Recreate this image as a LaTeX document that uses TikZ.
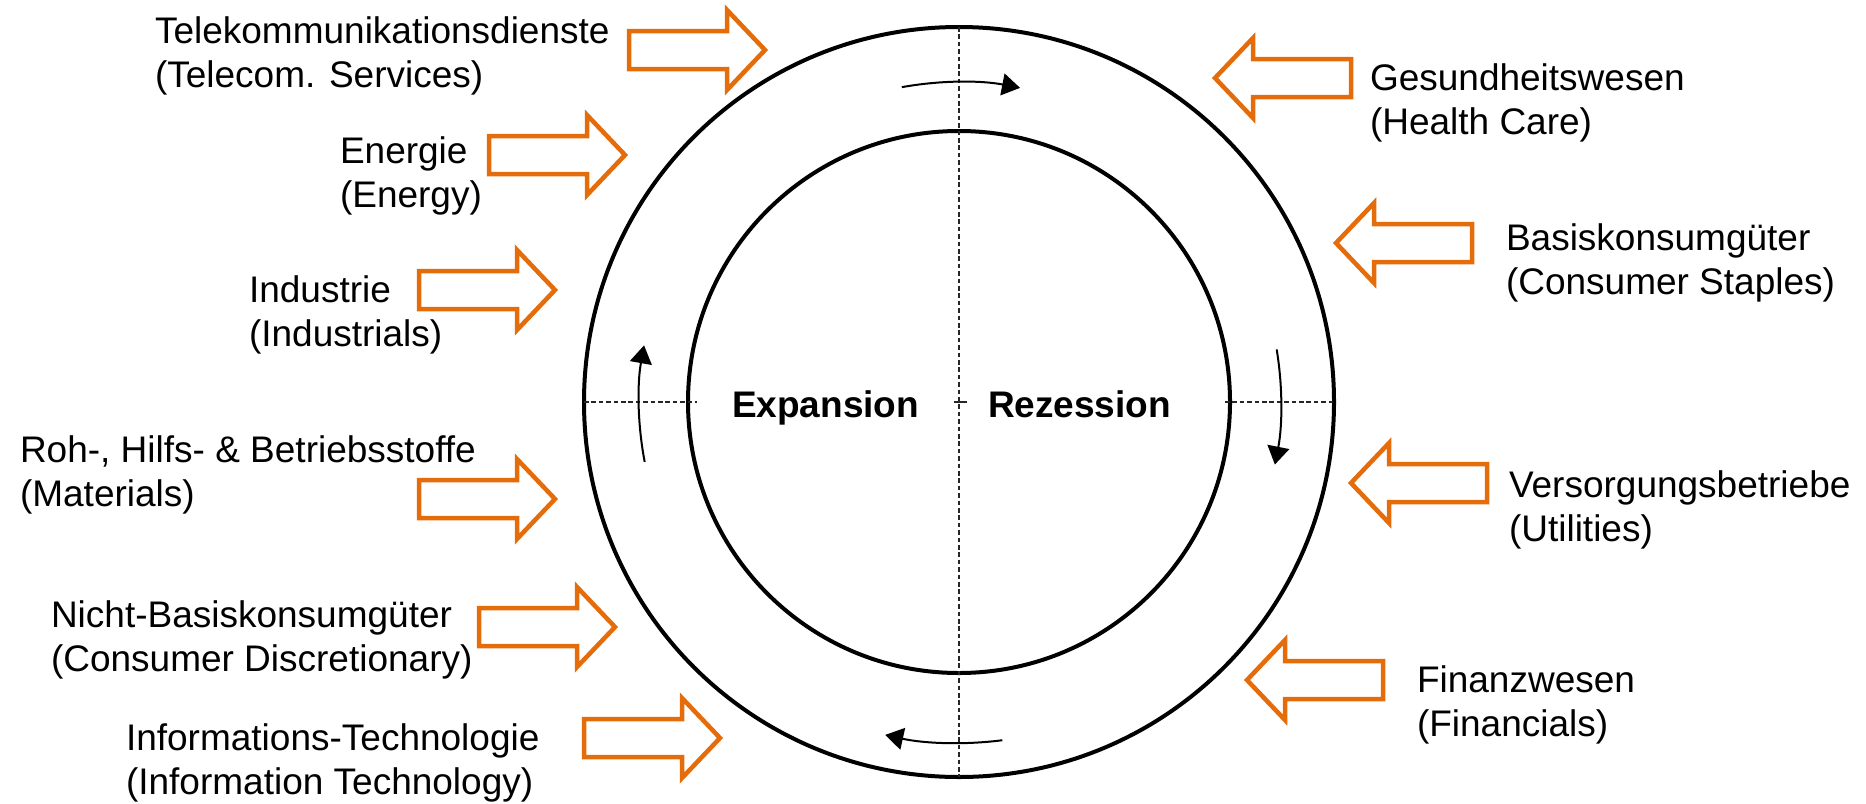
\documentclass[tikz,border=0pt]{standalone}
\usepackage{fontspec}
\setmainfont{Liberation Sans}
\usetikzlibrary{arrows.meta}
\definecolor{orng}{RGB}{228,108,10}
\newcommand{\twoline}[2]{\vtop{\hbox{\strut #1}\hbox{\strut #2}}}
\begin{document}
\begin{tikzpicture}[x=0.5pt,y=-0.5pt,
  lbl/.style={anchor=base west, inner sep=0pt, outer sep=0pt, font=\fontsize{18.5}{22}\selectfont},
  phase/.style={anchor=base west, inner sep=0pt, outer sep=0pt, font=\fontsize{18.5}{22}\selectfont\bfseries},
  ring/.style={circle, draw, line width=2pt, inner sep=0pt, outer sep=0pt},
  guide/.style={draw=black!85, line width=0.65pt, dash pattern=on 2.3pt off 1.4pt},
  cyc/.style={line width=1pt, -{Triangle[length=9pt,width=11pt]}},
  blk/.style={draw=orng, line width=2.25pt, line join=miter},
  rarrow/.pic={\draw[blk] (0,0) -- (-38,-40) -- (-38,-19) -- (-136,-19) -- (-136,19) -- (-38,19) -- (-38,40) -- cycle;},
  larrow/.pic={\draw[blk] (0,0) -- (38,-40) -- (38,-19) -- (136,-19) -- (136,19) -- (38,19) -- (38,40) -- cycle;}
]
\useasboundingbox (0,0) rectangle (1866,803);

% circles
\node[ring, minimum size=375pt] (outer) at (959,402) {};
\node[ring, minimum size=271pt] (inner) at (959,402) {};
\coordinate (c) at (959,402);

% guide lines
\draw[guide] (outer.north) -- (outer.south);
\coordinate (hl) at (697,402);
\coordinate (hr) at (1225,402);
\draw[guide] (outer.west) -- (hl);
\draw[guide] (hr) -- (outer.east);
\coordinate (t1) at (954,402);
\coordinate (t2) at (967,402);
\draw[line width=0.65pt, black!85] (t1) -- (t2);

% phase labels
\node[phase] (exp) at (732,417) {Expansion};
\node[phase] (rez) at (988,417) {Rezession};

% cycle arrows
\draw[cyc] ([shift={(-100.3:320)}]c) arc[start angle=-100.3, end angle=-79, radius=320];
\draw[cyc] ([shift={(-9.4:322)}]c) arc[start angle=-9.4, end angle=11.2, radius=322];
\draw[cyc] ([shift={(82.7:341)}]c) arc[start angle=82.7, end angle=102.5, radius=341];
\draw[cyc] ([shift={(-190.8:320)}]c) arc[start angle=-190.8, end angle=-169.8, radius=320];

% left labels
\node[lbl] (tel) at (155,43) {\twoline{Telekommunikationsdienste}{(Telecom. Services)}};
\node[lbl] (ene) at (340,163) {\twoline{Energie}{(Energy)}};
\node[lbl] (ind) at (249,302) {\twoline{Industrie}{(Industrials)}};
\node[lbl] (mat) at (20,462) {\twoline{Roh-, Hilfs- \& Betriebsstoffe}{(Materials)}};
\node[lbl] (dis) at (51,627) {\twoline{Nicht-Basiskonsumgüter}{(Consumer Discretionary)}};
\node[lbl] (it) at (126,750) {\twoline{Informations-Technologie}{(Information Technology)}};

% right labels
\node[lbl] (hea) at (1370,90) {\twoline{Gesundheitswesen}{(Health Care)}};
\node[lbl] (sta) at (1506,250) {\twoline{Basiskonsumgüter}{(Consumer Staples)}};
\node[lbl] (uti) at (1509,497) {\twoline{Versorgungsbetriebe}{(Utilities)}};
\node[lbl] (fin) at (1417,692) {\twoline{Finanzwesen}{(Financials)}};

% block arrows
\pic (atel) at (765,50) {rarrow};
\pic (aene) at (625,155) {rarrow};
\pic (aind) at (555,290) {rarrow};
\pic (amat) at (555,499) {rarrow};
\pic (adis) at (615,627) {rarrow};
\pic (ait) at (720,738) {rarrow};
\pic (ahea) at (1215,78) {larrow};
\pic (asta) at (1336,243) {larrow};
\pic (auti) at (1351,483) {larrow};
\pic (afin) at (1247,680) {larrow};
\end{tikzpicture}
\end{document}
